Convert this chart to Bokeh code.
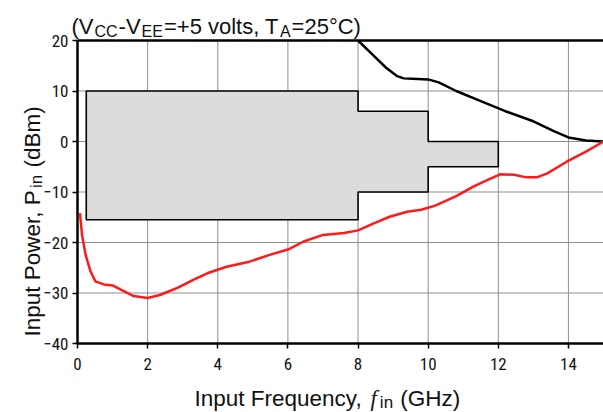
import math
from bokeh.plotting import figure
from bokeh.models import Range1d, FixedTicker, Label
from bokeh.embed import file_html
from bokeh.resources import INLINE

# ---- data ----
win_x = [0.25, 8, 8, 10, 10, 12, 12, 10, 10, 8, 8, 0.25]
win_y = [10, 10, 6, 6, 0, 0, -5, -5, -10, -10, -15.5, -15.5]

max_x = [8.0, 8.4, 8.8, 9.1, 9.3, 9.7, 10.0, 10.3, 10.8, 11.5, 12.2, 13.0, 13.6, 14.0, 14.5, 15.0]
max_y = [20, 17.3, 14.6, 13.0, 12.5, 12.4, 12.3, 11.7, 10.0, 8.0, 6.0, 4.0, 2.0, 0.8, 0.2, 0.0]

min_x = [0.07, 0.13, 0.23, 0.37, 0.51, 0.75, 1.0, 1.25, 1.6, 2.0, 2.35, 2.85, 3.3, 3.7,
         4.25, 4.9, 5.5, 6.0, 6.45, 7.0, 7.3, 7.6, 8.0, 8.45, 8.9, 9.4, 9.8, 10.2, 10.8,
         11.3, 11.7, 12.05, 12.45, 12.8, 13.1, 13.4, 13.95, 14.5, 15.0]
min_y = [-14.2, -18.5, -22.4, -25.7, -27.7, -28.3, -28.5, -29.4, -30.6, -31.0, -30.4, -29.0,
         -27.4, -26.1, -24.8, -23.8, -22.4, -21.4, -19.8, -18.5, -18.3, -18.1, -17.6, -16.2,
         -14.9, -13.9, -13.5, -12.7, -10.8, -8.9, -7.6, -6.5, -6.6, -7.1, -7.1, -6.3, -4.0,
         -2.0, 0.0]

x_ticks = [0, 2, 4, 6, 8, 10, 12, 14]
y_ticks = [-40, -30, -20, -10, 0, 10, 20]
X_MIN, X_MAX = 0, 15
Y_MIN, Y_MAX = -40, 20

# text pieces: (text, kind) where kind is "n" normal, "s" subscript, "i" italic serif
title_parts = [("(V", "n"), ("CC", "s"), ("-V", "n"), ("EE", "s"),
               ("=+5 volts, T", "n"), ("A", "s"), ("=25\u00b0C)", "n")]
xlabel_parts = [("Input Frequency, ", "n"), ("f", "i"), ("in", "s"), (" (GHz)", "n")]
ylabel_parts = [("Input Power, P", "n"), ("in", "s"), (" (dBm)", "n")]

TICK_FONT = "'Liberation Sans Narrow', 'Roboto Condensed', 'Liberation Sans', sans-serif"
FONT = "'Liberation Sans', Arial, sans-serif"
SERIF_I = "'Liberation Serif', 'DejaVu Serif', serif"
INK = "#111111"

# ---- layout: the frame covers the whole canvas; axes sit at fixed data locations ----
W, H = 603, 412
PL, PR, PT, PB = 77, 603, 40, 343   # plot area in page pixels
sx = (X_MAX - X_MIN) / (PR - PL)
sy = (Y_MAX - Y_MIN) / (PB - PT)
xr = Range1d(X_MIN - PL * sx, X_MAX + (W - PR) * sx)
yr = Range1d(Y_MIN - (H - PB) * sy, Y_MAX + PT * sy)

p = figure(width=W, height=H, output_backend="svg", toolbar_location=None,
           x_range=xr, y_range=yr, min_border=0)
p.title.visible = False
p.background_fill_color = "white"
p.border_fill_color = "white"
p.outline_line_color = None
p.grid.visible = False

for ax in (p.xaxis[0], p.yaxis[0]):
    ax.axis_line_color = "black"
    ax.axis_line_width = 2.5
    ax.major_tick_line_color = "black"
    ax.major_tick_line_width = 1.5
    ax.major_tick_out = 5
    ax.major_tick_in = 0
    ax.minor_tick_line_color = None
    ax.major_label_text_font = TICK_FONT
    ax.major_label_text_font_size = "17px"
    ax.major_label_text_color = INK
p.xaxis.ticker = FixedTicker(ticks=x_ticks)
p.yaxis.ticker = FixedTicker(ticks=y_ticks)
p.xaxis.fixed_location = Y_MIN
p.yaxis.fixed_location = X_MIN
p.xaxis.bounds = (X_MIN, X_MAX)
p.yaxis.bounds = (Y_MIN, Y_MAX)
p.xaxis.major_label_standoff = 9
p.yaxis.major_label_standoff = 4
p.yaxis.major_label_overrides = {t: (str(t).replace("-", "\u2212")) for t in y_ticks}

# ---- grid (from the tick arrays) ----
gx = [t for t in x_ticks if t != X_MIN]
gy = [t for t in y_ticks if t not in (Y_MIN, Y_MAX)]
p.segment(x0=gx, y0=[Y_MIN] * len(gx), x1=gx, y1=[Y_MAX] * len(gx),
          line_color="#8f8f8f", line_width=1)
p.segment(x0=[X_MIN] * len(gy), y0=gy, x1=[X_MAX] * len(gy), y1=gy,
          line_color="#8f8f8f", line_width=1)
p.line([X_MIN, X_MAX], [Y_MAX, Y_MAX], line_color="black", line_width=2.5)

# ---- marks ----
p.patch(win_x, win_y, fill_color="#dcdcdc", line_color="black", line_width=1.6)
p.line(max_x, max_y, line_color="black", line_width=2.5)
p.line(min_x, min_y, line_color="#ff1a1a", line_width=2.5)

# ---- rich text built from pieces (approximate Arial advance widths) ----
ADV = {' ': 278, '(': 333, ')': 333, '-': 333, '=': 584, '+': 584, ',': 278, '\u00b0': 400,
       'A': 667, 'B': 667, 'C': 722, 'E': 667, 'F': 611, 'G': 778, 'H': 722, 'I': 278,
       'P': 667, 'T': 611, 'V': 667, 'a': 556, 'b': 556, 'c': 500, 'd': 556, 'e': 556,
       'f': 278, 'i': 222, 'l': 222, 'm': 833, 'n': 556, 'o': 556, 'p': 556, 'q': 556,
       'r': 333, 's': 500, 't': 278, 'u': 556, 'v': 500, 'w': 722, 'y': 500, 'z': 500}

def adv(s, size):
    return sum(ADV.get(c, 556) for c in s) * size / 1000.0

def rich(parts, start, base, size, sub_size, sub_drop, vertical=False, gap=1.0):
    pos = start
    for text, kind in parts:
        fs = sub_size if kind == "s" else size
        font = SERIF_I if kind == "i" else FONT
        style = "italic" if kind == "i" else "normal"
        drop = sub_drop if kind == "s" else 0
        lead = len(text) - len(text.lstrip(" "))
        if lead:  # SVG drops leading blanks: advance by them instead
            w0 = adv(text[:lead], fs)
            pos = pos - w0 if vertical else pos + w0
            text = text[lead:]
        if vertical:
            px, py, ang = base + drop, pos, math.pi / 2
        else:
            px, py, ang = pos, base + drop, 0.0
        p.add_layout(Label(x=px, y=H - py, x_units="screen", y_units="screen",
                           text=text, text_font=font, text_font_size=f"{fs}px",
                           text_font_style=style, text_color=INK,
                           text_align="left", text_baseline="alphabetic", angle=ang))
        w = adv(text, fs) + (3 if kind == "i" else gap)
        pos = pos - w if vertical else pos + w

rich(title_parts, 71, 26, 22, 16, 5)
rich(xlabel_parts, 194, 398, 22.5, 17, 4)
rich(ylabel_parts, 336, 32, 22.5, 17, 4, vertical=True)

open("out.html", "w").write(file_html(p, INLINE))
